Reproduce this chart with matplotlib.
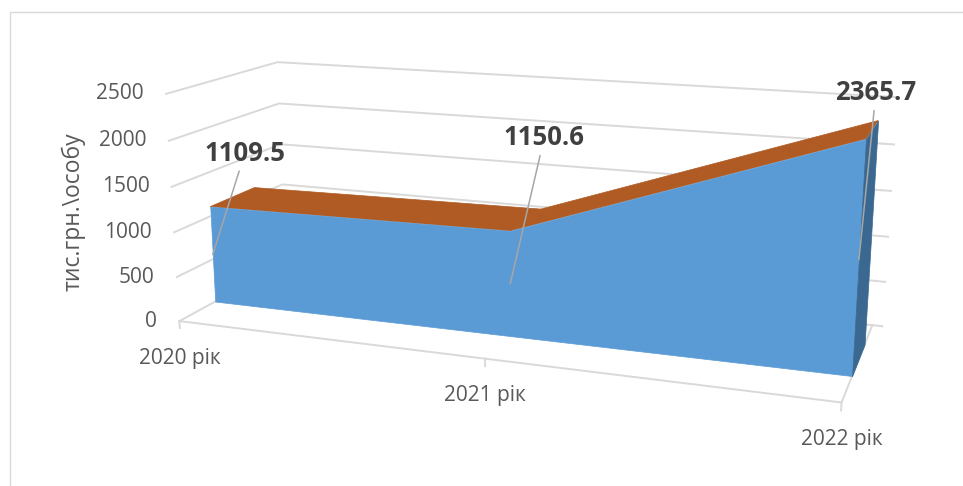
import matplotlib.pyplot as plt
from matplotlib.patches import Rectangle
from mpl_toolkits.mplot3d.art3d import Poly3DCollection
from mpl_toolkits.mplot3d import proj3d

plt.rcParams['font.family'] = ['Open Sans', 'DejaVu Sans']

# дані
categories = ['2020 рік', '2021 рік', '2022 рік']
values = [1109.5, 1150.6, 2365.7]
value_ticks = [0, 500, 1000, 1500, 2000, 2500]
axis_title = 'тис.грн.\\особу'

# зсув підписів даних від точки прив'язки (px)
label_offsets = [(32, 101), (34, 146), (17, 167)]

GRID = '#d9d9d9'
TEXT = '#595959'

W, H = 963, 486
fig = plt.figure(figsize=(W / 100, H / 100), dpi=100)
side = 963
ax = fig.add_axes([30.3 / W, -219.9 / H, side / W, side / H], projection='3d')
ax.set_proj_type('persp', focal_length=0.285)
ax.view_init(elev=14.17, azim=-70.53, roll=-0.07)
ax.set_box_aspect((1.0, 0.337, 0.351), zoom=0.7505)

xs = list(range(len(values)))
x_end = xs[-1]
ax.set_xlim(0, x_end)
ax.set_ylim(0, 1)
ax.set_zlim(0, value_ticks[-1])
ax.set_axis_off()
ax.computed_zorder = False
ax.patch.set_alpha(0)

# стінки: горизонтальні лінії сітки (ліва + задня) і засічки справа
for t in value_ticks:
    ax.plot([0, 0, x_end], [0, 1, 1], [t, t, t], color=GRID, lw=1.4, zorder=1)
    ax.plot([x_end, x_end + 0.03], [1, 1], [t, t], color=GRID, lw=1.4, zorder=1)

# підлога: передній і правий край
ax.plot([0, x_end, x_end], [0, 0, 1], [0, 0, 0], color=GRID, lw=1.4, zorder=1)
for x in xs:
    ax.plot([x, x], [0, 0], [0, -80], color=GRID, lw=1.4, zorder=1)

# об'ємна область
y_front, y_back = 0.31, 0.72
front = ([(xs[0], y_front, 0)]
         + [(x, y_front, v) for x, v in zip(xs, values)]
         + [(x_end, y_front, 0)])
tops = [[(xs[i], y_front, values[i]), (xs[i + 1], y_front, values[i + 1]),
         (xs[i + 1], y_back, values[i + 1]), (xs[i], y_back, values[i])]
        for i in range(len(xs) - 1)]
side_face = [(x_end, y_front, 0), (x_end, y_front, values[-1]),
             (x_end, y_back, values[-1]), (x_end, y_back, 0)]

ax.add_collection3d(Poly3DCollection(tops, facecolor='#AF5B23', edgecolor='#AF5B23',
                                     lw=0.5, zorder=3))
ax.add_collection3d(Poly3DCollection([front], facecolor='#5B9BD5', edgecolor='#5B9BD5',
                                     lw=0.5, zorder=4))
ax.add_collection3d(Poly3DCollection([side_face], facecolor='#3A6890', edgecolor='#3A6890',
                                     lw=0.5, zorder=4))

M = ax.get_proj()


def to2d(x, y, z):
    px, py, _ = proj3d.proj_transform(x, y, z, M)
    return float(px), float(py)


# підписи осі значень
for t in value_ticks:
    ax.annotate(f'{t}', xy=to2d(0, 0, t), xytext=(-22, 0), textcoords='offset pixels',
                ha='right', va='center', fontsize=15, color=TEXT, zorder=6)

# підписи категорій
for x, c in zip(xs, categories):
    ax.annotate(c, xy=to2d(x, 0, 0), xytext=(0, -37), textcoords='offset pixels',
                ha='center', va='center', fontsize=15, color=TEXT, zorder=6)

# підписи даних з виносками
for x, v, (dx, dy) in zip(xs, values, label_offsets):
    ax.annotate(f'{v}', xy=to2d(x, y_front, v / 2), xytext=(dx, dy),
                textcoords='offset pixels', ha='center', va='center',
                fontsize=18.5, fontweight='bold', color='#404040',
                arrowprops=dict(arrowstyle='-', color='#a6a6a6', lw=1.1,
                                shrinkA=1, shrinkB=0),
                zorder=7)

fig.text(73 / W, 1 - 212 / H, axis_title, rotation=90, ha='center', va='center',
         fontsize=16.5, color=TEXT)

# рамка діаграми
fig.add_artist(Rectangle((10 / W, -0.05), 1.0, (H - 12) / H + 0.05,
                         transform=fig.transFigure, fill=False, ec=GRID, lw=1))

fig.savefig('out.png', dpi=100)
